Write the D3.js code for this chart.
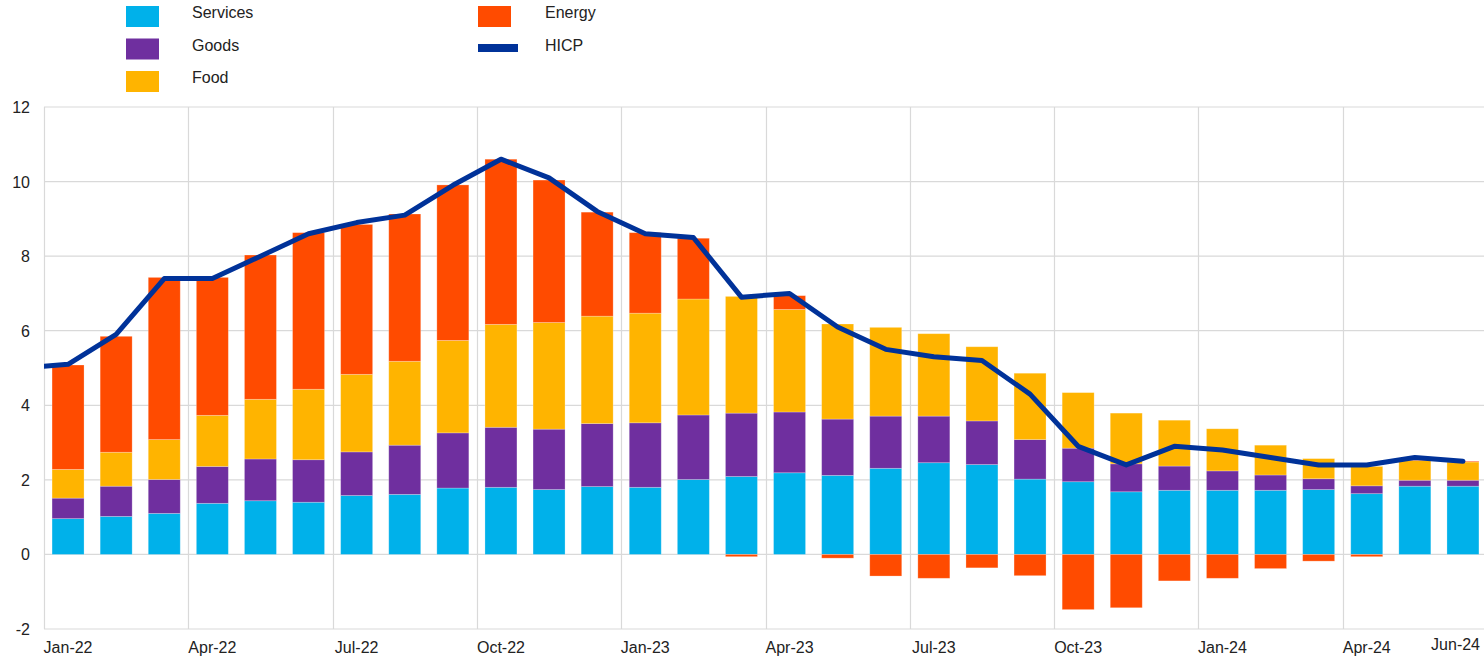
<!DOCTYPE html>
<html>
<head>
<meta charset="utf-8">
<script src="https://cdn.jsdelivr.net/npm/d3@7"></script>
<style>
  body { margin: 0; background: #fff; }
  svg { display: block; font-family: "Liberation Sans", Arial, sans-serif; }
</style>
</head>
<body>
<div class="plot"></div>
<script>
// Contributions to HICP inflation, percentage points
const months = ["Jan-22","Feb-22","Mar-22","Apr-22","May-22","Jun-22","Jul-22","Aug-22","Sep-22","Oct-22","Nov-22","Dec-22",
  "Jan-23","Feb-23","Mar-23","Apr-23","May-23","Jun-23","Jul-23","Aug-23","Sep-23","Oct-23","Nov-23","Dec-23",
  "Jan-24","Feb-24","Mar-24","Apr-24","May-24","Jun-24"];
const services = [0.96,1.02,1.10,1.37,1.44,1.40,1.58,1.61,1.78,1.80,1.74,1.82,
  1.80,2.01,2.09,2.19,2.12,2.31,2.46,2.41,2.02,1.95,1.68,1.72,
  1.72,1.72,1.74,1.63,1.83,1.83];
const goods = [0.55,0.81,0.91,0.99,1.12,1.14,1.17,1.32,1.48,1.61,1.62,1.69,
  1.73,1.73,1.70,1.63,1.51,1.40,1.25,1.17,1.06,0.90,0.75,0.65,
  0.52,0.41,0.29,0.21,0.16,0.16];
const food = [0.77,0.91,1.07,1.37,1.60,1.89,2.08,2.25,2.48,2.76,2.86,2.88,
  2.94,3.11,3.13,2.75,2.55,2.38,2.21,1.99,1.78,1.49,1.36,1.23,
  1.13,0.80,0.54,0.52,0.53,0.49];
const energy = [2.80,3.11,4.35,3.70,3.87,4.20,4.02,3.95,4.17,4.43,3.82,2.79,
  2.16,1.63,-0.06,0.37,-0.10,-0.58,-0.64,-0.36,-0.57,-1.48,-1.43,-0.71,
  -0.64,-0.38,-0.18,-0.06,0.02,0.02];
const hicp = [5.1,5.9,7.4,7.4,8.0,8.6,8.9,9.1,9.9,10.6,10.1,9.2,
  8.6,8.5,6.9,7.0,6.1,5.5,5.3,5.2,4.3,2.9,2.4,2.9,
  2.8,2.6,2.4,2.4,2.6,2.5];
// last month before the chart window; the line runs in from it
const hicpPrev = {month: "Dec-21", value: 5.0};

const series = ["Services","Goods","Food","Energy"];
const colors = ["#00b1ea","#6f2f9f","#ffb400","#ff4b00"];
const yTicks = [-2,0,2,4,6,8,10,12];
const xLabels = ["Jan-22","Apr-22","Jul-22","Oct-22","Jan-23","Apr-23","Jul-23","Oct-23","Jan-24","Apr-24","Jun-24"];

const W = 1484, H = 659;
const plotLeft = 44, plotTop = 107, plotBottom = 629;

const svg = d3.select(".plot").append("svg")
  .attr("width", W).attr("height", H);

// band scale includes the previous month so the line can start off-plot
const x = d3.scaleBand()
  .domain([hicpPrev.month].concat(months))
  .range([plotLeft - 48.1, plotLeft + 30 * 48.1])
  .paddingInner(0.335)
  .paddingOuter(0.1675);
const step = x.step();
const y = d3.scaleLinear().domain([-2, 12]).range([plotBottom, plotTop]);

const table = months.map((m, i) => ({
  month: m, Services: services[i], Goods: goods[i], Food: food[i], Energy: energy[i]
}));
const stacked = d3.stack().keys(series).offset(d3.stackOffsetDiverging)(table);

// grid
svg.append("g").selectAll("line")
  .data(yTicks)
  .join("line")
    .attr("x1", plotLeft).attr("x2", W)
    .attr("y1", d => y(d)).attr("y2", d => y(d))
    .attr("stroke", "#d9d9d9").attr("stroke-width", 1.2);

svg.append("g").selectAll("line")
  .data(months.filter((m, i) => i % 3 === 0))
  .join("line")
    .attr("x1", d => Math.round(x(d) - (step - x.bandwidth()) / 2) + 0.5)
    .attr("x2", d => Math.round(x(d) - (step - x.bandwidth()) / 2) + 0.5)
    .attr("y1", plotTop).attr("y2", plotBottom)
    .attr("stroke", "#d9d9d9").attr("stroke-width", 1.2);

// bars
svg.append("g").selectAll("g")
  .data(stacked)
  .join("g")
    .attr("fill", (d, i) => colors[i])
  .selectAll("rect")
  .data(d => d)
  .join("rect")
    .attr("x", d => x(d.data.month))
    .attr("width", x.bandwidth())
    .attr("y", d => y(Math.max(d[0], d[1])))
    .attr("height", d => Math.abs(y(d[0]) - y(d[1])))
    .attr("stroke", "#fff").attr("stroke-opacity", 0.3).attr("stroke-width", 0.8);

// HICP line
svg.append("clipPath").attr("id", "clip")
  .append("rect").attr("x", plotLeft).attr("y", 0).attr("width", W - plotLeft).attr("height", H);

const linePts = [hicpPrev].concat(months.map((m, i) => ({month: m, value: hicp[i]})));
svg.append("path")
  .datum(linePts)
  .attr("clip-path", "url(#clip)")
  .attr("fill", "none")
  .attr("stroke", "#003299")
  .attr("stroke-width", 5)
  .attr("stroke-linejoin", "round")
  .attr("stroke-linecap", "round")
  .attr("d", d3.line().x(d => x(d.month) + x.bandwidth() / 2).y(d => y(d.value)));

// y labels
svg.append("g").selectAll("text")
  .data(yTicks)
  .join("text")
    .attr("x", 30).attr("y", d => y(d) + 6)
    .attr("text-anchor", "end")
    .attr("font-size", 16).attr("fill", "#222")
    .text(d => d);

// x labels
svg.append("g").selectAll("text")
  .data(xLabels)
  .join("text")
    .attr("x", d => d === "Jun-24" ? W - 4 : x(d) + x.bandwidth() / 2)
    .attr("y", d => d === "Jun-24" ? 650 : 653)
    .attr("text-anchor", d => d === "Jun-24" ? "end" : "middle")
    .attr("font-size", 16).attr("fill", "#222")
    .text(d => d);

// legend
const legendItems = [
  {name: "Services", color: colors[0], col: 0, row: 0},
  {name: "Goods", color: colors[1], col: 0, row: 1},
  {name: "Food", color: colors[2], col: 0, row: 2},
  {name: "Energy", color: colors[3], col: 1, row: 0},
  {name: "HICP", color: "#003299", col: 1, row: 1, line: true}
];
const lg = svg.append("g").selectAll("g")
  .data(legendItems)
  .join("g")
    .attr("transform", d => `translate(${d.col ? 478 : 126},${6 + d.row * 32.5})`);
lg.append("rect")
  .attr("y", d => d.line ? 38 - 32.5 : 0)
  .attr("width", d => d.line ? 40 : 33)
  .attr("height", d => d.line ? 8 : 21)
  .attr("fill", d => d.color);
lg.append("text")
  .attr("x", d => d.col ? 67 : 66)
  .attr("y", 12)
  .attr("font-size", 16).attr("fill", "#222")
  .text(d => d.name);
</script>
</body>
</html>
